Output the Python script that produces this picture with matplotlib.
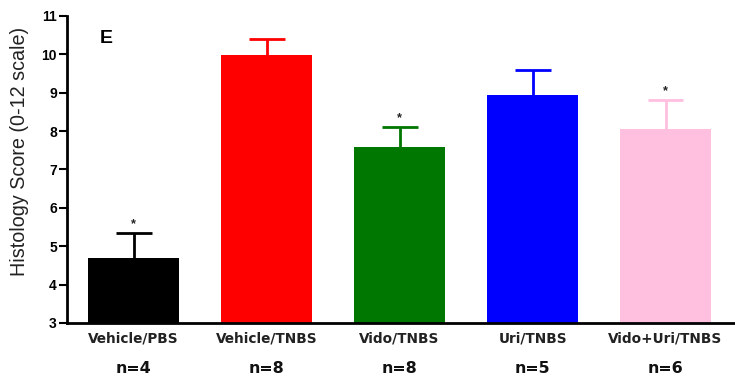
import matplotlib
matplotlib.use("Agg")
import matplotlib.pyplot as plt

groups = ["Vehicle/PBS", "Vehicle/TNBS", "Vido/TNBS", "Uri/TNBS", "Vido+Uri/TNBS"]
means = [4.69, 9.99, 7.58, 8.93, 8.06]
sems = [0.65, 0.41, 0.53, 0.65, 0.74]
n_labels = ["n=4", "n=8", "n=8", "n=5", "n=6"]
significant = [True, False, True, False, True]
colors = ["#000000", "#ff0000", "#007700", "#0000ff", "#ffbfdf"]
yticks = [3, 4, 5, 6, 7, 8, 9, 10, 11]

plt.rcParams["font.family"] = ["Liberation Sans", "DejaVu Sans"]

fig = plt.figure(figsize=(7.35, 3.79), dpi=100)
ax = fig.add_axes([0.0915, 0.148, 0.9225, 0.81])

x = list(range(len(groups)))
bar_w = 0.686
cap_half = 0.135
ax.bar(x, means, width=bar_w, color=colors, bottom=0, zorder=2)

# upper-only SEM whiskers with a cap, in the bar's own colour
for xi, m, s, c in zip(x, means, sems, colors):
    ax.vlines(xi, m, m + s, colors=c, linewidth=2, zorder=3)
    ax.hlines(m + s, xi - cap_half, xi + cap_half, colors=c, linewidth=2, zorder=3)

for xi, m, s, sig in zip(x, means, sems, significant):
    if sig:
        ax.text(xi, m + s + 0.08, "*", ha="center", va="bottom",
                fontsize=9, fontweight="bold", color="#222222")

ax.set_ylim(3, 11)
ax.set_xlim(-0.5, 4.6)
ax.set_yticks(yticks)
ax.set_yticklabels([str(t) for t in yticks], fontsize=10, fontweight="bold")
ax.set_xticks(x)
ax.set_xticklabels(groups, fontsize=9.8, fontweight="bold",
                   family=["DejaVu Sans"], color="#222222")
ax.tick_params(axis="x", length=0, pad=6)
ax.tick_params(axis="y", length=6, width=1.5, pad=1.5)
for side in ("top", "right"):
    ax.spines[side].set_visible(False)
for side in ("left", "bottom"):
    ax.spines[side].set_linewidth(2)
ax.set_ylabel("Histology Score (0-12 scale)", fontsize=14.2, color="#222222")
ax.yaxis.set_label_coords(-0.057, 0.557)

for xi, lab in zip(x, n_labels):
    ax.text(xi, -0.15, lab, transform=ax.get_xaxis_transform(), ha="center",
            va="center", fontsize=11.4, fontweight="bold", family=["DejaVu Sans"],
            color="#111111")

ax.text(0.048, 0.925, "E", transform=ax.transAxes, fontsize=14,
        fontweight="bold", va="center", ha="left")

fig.savefig("out.png", dpi=100)
